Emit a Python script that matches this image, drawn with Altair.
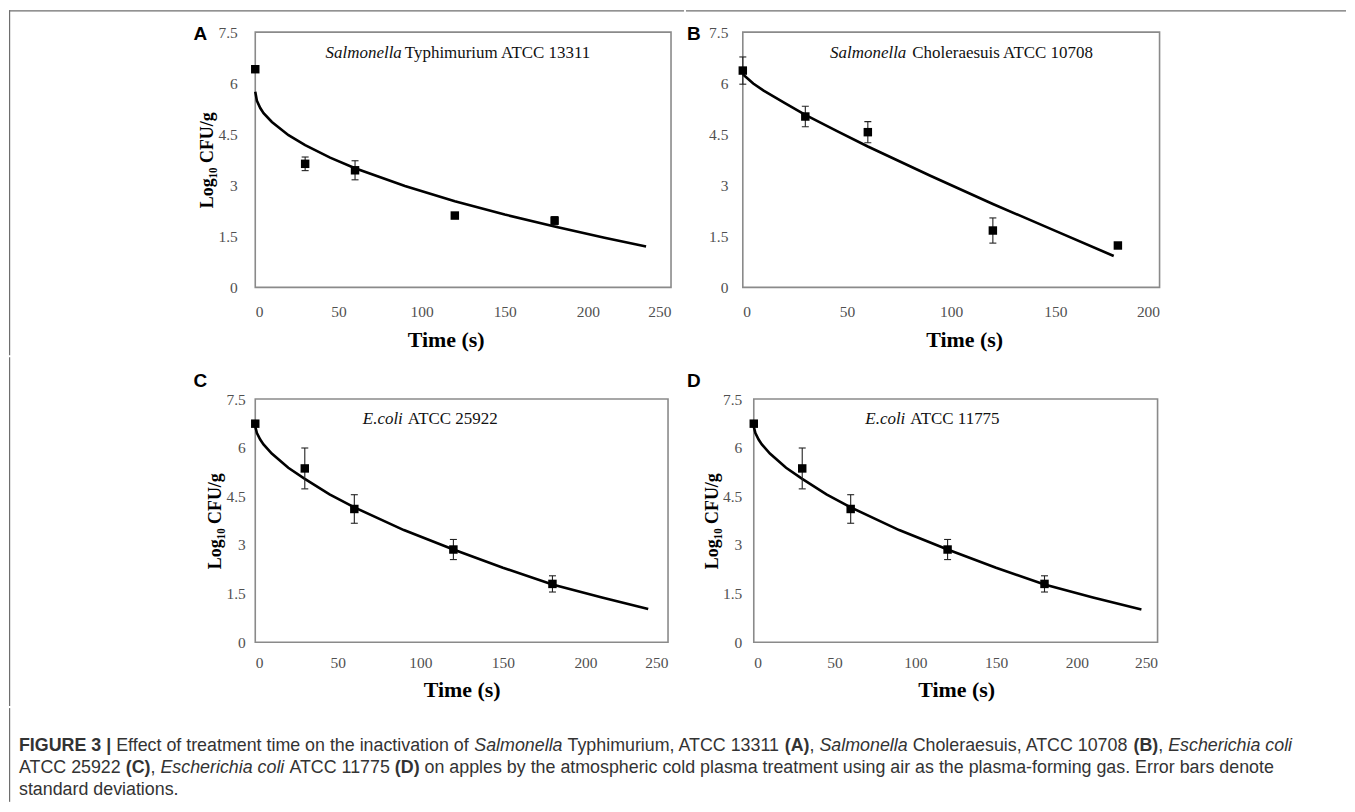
import altair as alt
import pandas as pd

# ---------------- data ----------------
time_pts = [0, 30, 60, 120, 180]

a_mean = [6.41, 3.63, 3.44, 2.11, 1.96]
a_sd = [0.05, 0.20, 0.28, 0.06, 0.12]
a_fit_t = [0, 1, 3, 5, 10, 20, 30, 45, 60, 90, 120, 150, 180, 210, 235]
a_fit_v = [5.75, 5.48, 5.27, 5.12, 4.86, 4.47, 4.18, 3.81, 3.50, 2.98, 2.53, 2.14, 1.79, 1.46, 1.20]

b_mean = [6.37, 5.02, 4.56, 1.67, 1.23]
b_sd = [0.40, 0.30, 0.31, 0.37, 0.08]
b_fit_t = [0, 5, 10, 20, 30, 45, 60, 90, 120, 150, 178]
b_fit_v = [6.26, 5.99, 5.78, 5.42, 5.07, 4.60, 4.14, 3.28, 2.45, 1.66, 0.92]

c_mean = [6.74, 5.36, 4.11, 2.86, 1.80]
c_sd = [0.08, 0.63, 0.44, 0.31, 0.25]
c_fit_t = [0, 1, 3, 5, 10, 20, 30, 45, 60, 90, 120, 150, 180, 210, 238]
c_fit_v = [6.65, 6.45, 6.25, 6.10, 5.82, 5.38, 5.04, 4.56, 4.16, 3.46, 2.86, 2.30, 1.78, 1.38, 1.03]

d_mean = [6.74, 5.36, 4.11, 2.86, 1.80]
d_sd = [0.08, 0.63, 0.44, 0.31, 0.25]
d_fit_t = [0, 1, 3, 5, 10, 20, 30, 45, 60, 90, 120, 150, 180, 210, 240]
d_fit_v = [6.65, 6.45, 6.25, 6.10, 5.82, 5.38, 5.04, 4.56, 4.16, 3.46, 2.86, 2.30, 1.78, 1.38, 1.01]

y_ticks = [0, 1.5, 3, 4.5, 6, 7.5]

caption_lines = [
    [("FIGURE 3 |", "b"), (" Effect of treatment time on the inactivation of ", "n"), ("Salmonella", "i"),
     (" Typhimurium, ATCC 13311 ", "n"), ("(A)", "b"), (", ", "n"), ("Salmonella", "i"),
     (" Choleraesuis, ATCC 10708 ", "n"), ("(B)", "b"), (", ", "n"), ("Escherichia coli", "i")],
    [("ATCC 25922 ", "n"), ("(C)", "b"), (", ", "n"), ("Escherichia coli", "i"), (" ATCC 11775 ", "n"),
     ("(D)", "b"), (" on apples by the atmospheric cold plasma treatment using air as the plasma-forming gas. Error bars denote", "n")],
    [("standard deviations.", "n")],
]

# ---------------- styling ----------------
SERIF = "Liberation Serif"
SANS = "Liberation Sans"
FRAME = "#8a8a8a"
LINE = "#6e6e6e"
CAP_FS = 17.9

W_REG = {" ": 278, "(": 333, ")": 333, ",": 278, "-": 333, ".": 278, "|": 260,
         "A": 667, "B": 667, "C": 722, "D": 722, "E": 667, "F": 611, "G": 778, "H": 722, "I": 278,
         "R": 722, "S": 667, "T": 611, "U": 722,
         "a": 556, "b": 556, "c": 500, "d": 556, "e": 556, "f": 278, "g": 556, "h": 556, "i": 222,
         "j": 222, "k": 500, "l": 222, "m": 833, "n": 556, "o": 556, "p": 556, "q": 556, "r": 333,
         "s": 500, "t": 278, "u": 556, "v": 500, "w": 722, "x": 500, "y": 500, "z": 500}
W_BOLD = {" ": 278, "(": 333, ")": 333, "|": 280, "A": 722, "B": 722, "C": 722, "D": 722,
          "E": 667, "F": 611, "G": 778, "I": 278, "R": 722, "U": 722}
KERN = {"AT": -74, "Ty": -74, "11": -74}


def text_w(s, style):
    tab = W_BOLD if style == "b" else W_REG
    w = sum(tab.get(ch, 556) for ch in s)
    w += sum(KERN.get(s[k:k + 2], 0) for k in range(len(s) - 1))
    return w / 1000.0 * CAP_FS


def bar(x1, x2, y1, y2, op=1):
    # thin filled rectangle used for the figure frame lines (exact layout bounds)
    return alt.Chart(pd.DataFrame({"k": [0]})).mark_rect(color=LINE, opacity=op).encode(
        x=alt.value(x1), x2=alt.value(x2), y=alt.value(y1), y2=alt.value(y2))


def panel(mean, sd, fit_t, fit_v, xmax, W, H, it_txt, it_end, nm_txt, nm_start, sp_y,
          letter, lx, ly, ytitle, ytx, ylp, xlp, xtx, xty, extras):
    pts = pd.DataFrame({"t": time_pts, "m": mean, "sd": sd})
    pts["lo"] = pts["m"] - pts["sd"]
    pts["hi"] = pts["m"] + pts["sd"]
    fit = pd.DataFrame({"t": fit_t, "v": fit_v})
    xs = alt.Scale(domain=[0, xmax], nice=False)
    ys = alt.Scale(domain=[0, 7.5], nice=False)
    xaxis = alt.Axis(values=list(range(0, xmax + 1, 50)), title="Time (s)", grid=False, ticks=False,
                     domain=False, labelFont=SERIF, labelFontSize=15.5, labelColor="#505050",
                     labelPadding=xlp, labelBaseline="middle", titleFont=SERIF, titleFontSize=22,
                     titleFontWeight="bold", titleColor="#000000", titleX=xtx, titleY=xty,
                     titleBaseline="middle", titleAlign="center")
    yargs = dict(values=y_ticks, format=".1~f", grid=False, ticks=False, domain=False,
                 labelFont=SERIF, labelFontSize=15.5, labelColor="#505050", labelPadding=ylp)
    if ytitle:
        yaxis = alt.Axis(title="Log\u2081\u2080 CFU/g", titleFont=SERIF, titleFontSize=18,
                         titleFontWeight="bold", titleColor="#000000", titleX=ytx, titleY=H / 2,
                         titleAngle=270, titleBaseline="middle", titleAlign="center", **yargs)
    else:
        yaxis = alt.Axis(title=None, **yargs)

    line = alt.Chart(fit).mark_line(color="#000000", strokeWidth=2.6).encode(
        x=alt.X("t:Q", scale=xs, axis=xaxis), y=alt.Y("v:Q", scale=ys, axis=yaxis))
    err = alt.Chart(pts).mark_rule(color="#222222", strokeWidth=1.1).encode(
        x="t:Q", y="lo:Q", y2="hi:Q")
    cap_lo = alt.Chart(pts).mark_tick(orient="horizontal", size=7, thickness=1.1, color="#222222",
                                      opacity=1).encode(x="t:Q", y="lo:Q")
    cap_hi = alt.Chart(pts).mark_tick(orient="horizontal", size=7, thickness=1.1, color="#222222",
                                      opacity=1).encode(x="t:Q", y="hi:Q")
    sq = alt.Chart(pts).mark_square(size=72, color="#000000", opacity=1).encode(x="t:Q", y="m:Q")
    sp_it = alt.Chart(pd.DataFrame({"s": [it_txt]})).mark_text(
        font=SERIF, fontSize=17, fontStyle="italic", align="right", baseline="middle",
        color="#111111").encode(x=alt.value(it_end), y=alt.value(sp_y), text="s:N")
    sp_nm = alt.Chart(pd.DataFrame({"s": [nm_txt]})).mark_text(
        font=SERIF, fontSize=17, align="left", baseline="middle",
        color="#111111").encode(x=alt.value(nm_start), y=alt.value(sp_y), text="s:N")
    let = alt.Chart(pd.DataFrame({"s": [letter]})).mark_text(
        font=SANS, fontSize=19, fontWeight="bold", align="center", baseline="middle",
        color="#000000").encode(x=alt.value(lx), y=alt.value(ly), text="s:N")
    layers = [line, err, cap_lo, cap_hi, sq, sp_it, sp_nm, let] + extras
    return alt.layer(*layers).properties(
        width=W, height=H, view=alt.ViewBackground(stroke=FRAME, strokeWidth=1.6))


# panel plot origins on the page: A/C at x=255, B at 742, D at 753
pA = panel(a_mean, a_sd, a_fit_t, a_fit_v, 250, 417, 256, "Salmonella", 147, "Typhimurium ATCC 13311", 150, 21,
           "A", -55, 2, True, -48, 18, 24, 191, 52,
           [bar(-247, 430, -22, -20.8), bar(-247, -245.8, -22, 324)])
pB = panel(b_mean, b_sd, b_fit_t, b_fit_v, 200, 418, 256, "Salmonella", 164, "Choleraesuis ATCC 10708", 170, 21,
           "B", -49, 2, False, 0, 15, 24, 222, 52,
           [bar(-57, 605, -22, -20.8), bar(0, 1, 314, 324, op=0)])
pC = panel(c_mean, c_sd, c_fit_t, c_fit_v, 250, 414, 244, "E.coli", 148, "ATCC 25922", 153, 20,
           "C", -55, -18, True, -40, 10, 20, 207, 47,
           [bar(-247, -245.8, -42, 308)])
pD = panel(d_mean, d_sd, d_fit_t, d_fit_v, 250, 405, 244, "E.coli", 152, "ATCC 11775", 157, 20,
           "D", -60, -18, True, -41, 12, 20, 203, 47,
           [bar(-68, -67, -42, -41, op=0)])

# caption segments laid out with Liberation Sans (Arial-metric) advance widths
rows = []
line_y = [38, 60, 82]
for li, segs in enumerate(caption_lines):
    x = -237.0
    for s, st in segs:
        lead = len(s) - len(s.lstrip(" "))
        trail = len(s) - len(s.rstrip(" "))
        x += text_w(" " * lead, "n")
        core = s.strip(" ")
        rows.append({"text": core, "x": x, "y": line_y[li], "st": st})
        x += text_w(core, st) + text_w(" " * trail, "n")
cap_df = pd.DataFrame(rows)
cbase = alt.Chart(cap_df)
enc = dict(x=alt.X("x:Q", scale=None), y=alt.Y("y:Q", scale=None), text="text:N")
c_n = cbase.transform_filter(alt.datum.st == "n").mark_text(
    align="left", baseline="middle", font=SANS, fontSize=CAP_FS, color="#333333").encode(**enc)
c_b = cbase.transform_filter(alt.datum.st == "b").mark_text(
    align="left", baseline="middle", font=SANS, fontSize=CAP_FS, fontWeight="bold", color="#333333").encode(**enc)
c_i = cbase.transform_filter(alt.datum.st == "i").mark_text(
    align="left", baseline="middle", font=SANS, fontSize=CAP_FS, fontStyle="italic", color="#333333").encode(**enc)
caption = alt.layer(c_n, c_b, c_i, bar(-247, -245.8, 0, 94)).properties(
    width=1090, height=88, view=alt.ViewBackground(stroke="transparent"))

grid = alt.concat(pA, pB, pC, pD, columns=2, spacing=0, align="none", bounds="full").resolve_scale(
    x="independent", y="independent")

chart = alt.concat(grid, caption, columns=1, spacing=0, align="none", bounds="full").resolve_scale(
    x="independent", y="independent").properties(
    padding={"left": 0, "top": 0, "right": 0, "bottom": 0}, background="#ffffff")

chart.save("out.html", embed_options={"renderer": "svg", "actions": False})
